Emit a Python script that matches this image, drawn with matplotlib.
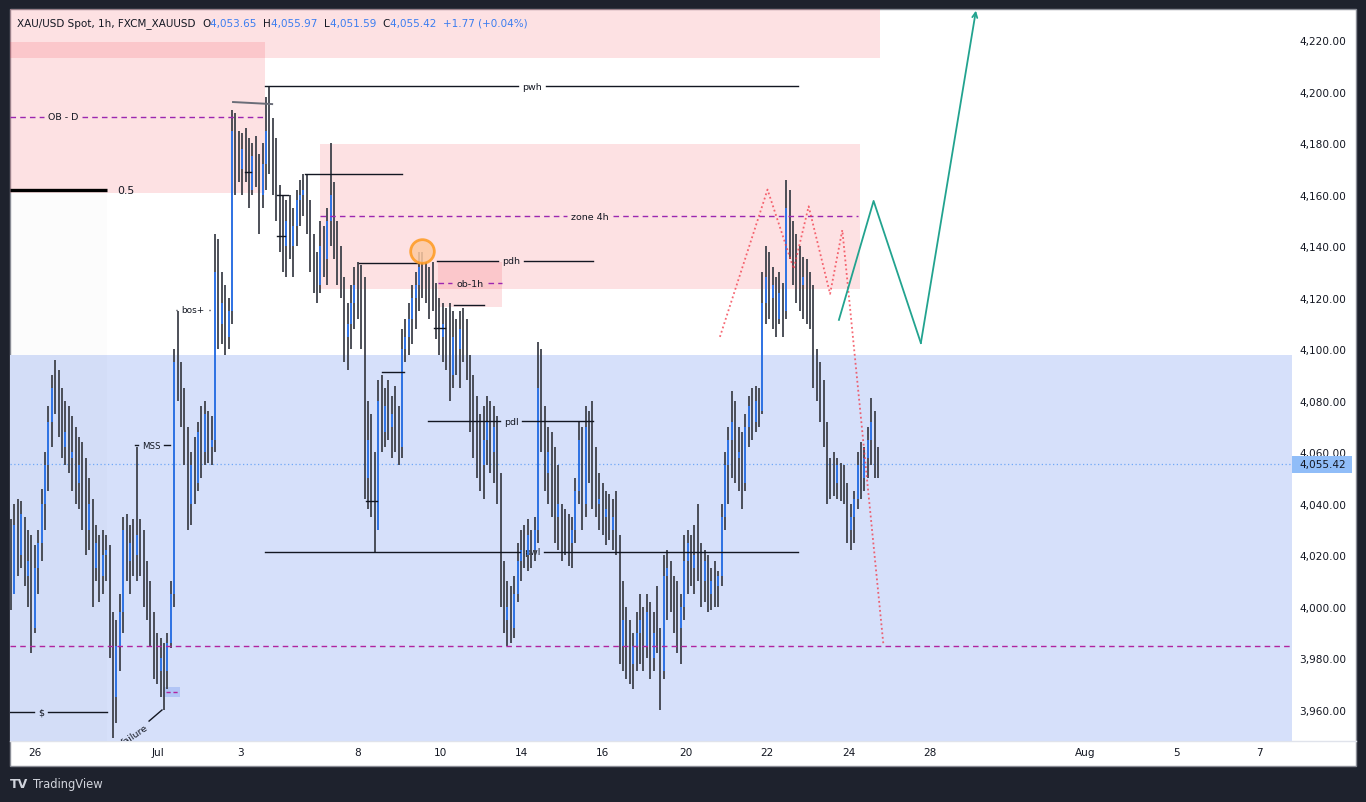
import matplotlib
matplotlib.use('Agg')
import matplotlib.pyplot as plt
import matplotlib.transforms as mtransforms
from matplotlib.patches import Rectangle
from matplotlib.lines import Line2D

# --- data (2h-ish bars, prices in USD) ---
first_open = 4010
highs = [4034, 4040, 4042, 4041, 4035, 4030, 4028, 4024, 4030, 4046,
         4060, 4078, 4090, 4096, 4092, 4085, 4080, 4078, 4074, 4070,
         4066, 4064, 4058, 4050, 4042, 4032, 4028, 4030, 4028, 4024,
         3998, 3995, 4005, 4035, 4036, 4032, 4034, 4062, 4034, 4030,
         4018, 4010, 3998, 3990, 3988, 3986, 3990, 4010, 4100, 4115,
         4095, 4085, 4070, 4060, 4066, 4072, 4078, 4080, 4076, 4074,
         4145, 4143, 4130, 4125, 4120, 4193, 4192, 4185, 4184, 4186,
         4182, 4180, 4183, 4176, 4180, 4198, 4202, 4190, 4182, 4164,
         4160, 4158, 4160, 4155, 4162, 4166, 4168, 4168, 4158, 4145,
         4138, 4150, 4148, 4155, 4180, 4165, 4150, 4140, 4128, 4118,
         4125, 4132, 4134, 4133, 4128, 4080, 4075, 4060, 4088, 4090,
         4085, 4088, 4082, 4086, 4078, 4108, 4112, 4118, 4125, 4130,
         4138, 4138, 4134, 4132, 4134, 4126, 4120, 4118, 4116, 4118,
         4115, 4112, 4115, 4116, 4112, 4098, 4090, 4082, 4075, 4078,
         4082, 4080, 4078, 4074, 4052, 4018, 4010, 4008, 4012, 4025,
         4030, 4032, 4034, 4030, 4035, 4103, 4100, 4078, 4070, 4068,
         4062, 4055, 4040, 4038, 4036, 4035, 4050, 4072, 4070, 4078,
         4076, 4080, 4062, 4052, 4048, 4045, 4044, 4042, 4045, 4028,
         4010, 4000, 3995, 3990, 3998, 4005, 4000, 4005, 4002, 3998,
         4008, 3992, 4020, 4022, 4018, 4012, 4010, 4005, 4028, 4030,
         4028, 4032, 4040, 4025, 4022, 4020, 4015, 4018, 4014, 4040,
         4060, 4070, 4084, 4080, 4070, 4068, 4075, 4082, 4085, 4086,
         4085, 4130, 4140, 4138, 4132, 4128, 4130, 4126, 4166, 4162,
         4150, 4145, 4140, 4136, 4135, 4130, 4125, 4100, 4095, 4088,
         4072, 4058, 4060, 4058, 4056, 4055, 4048, 4040, 4045, 4060,
         4064, 4062, 4070, 4081, 4076, 4062]
lows = [3999, 4005, 4012, 4015, 4008, 4000, 3982, 3990, 4005, 4018,
        4030, 4045, 4062, 4075, 4066, 4058, 4055, 4052, 4045, 4040,
        4038, 4030, 4020, 4022, 4000, 4010, 4002, 4005, 4010, 3980,
        3949, 3955, 3975, 3990, 4010, 4005, 4012, 4010, 4012, 4000,
        3995, 3985, 3972, 3970, 3965, 3960, 3968, 3984, 4000, 4080,
        4070, 4055, 4030, 4032, 4040, 4045, 4050, 4055, 4056, 4055,
        4060, 4100, 4102, 4098, 4100, 4110, 4160, 4165, 4160, 4165,
        4155, 4160, 4163, 4145, 4155, 4162, 4168, 4160, 4150, 4138,
        4130, 4128, 4135, 4128, 4140, 4148, 4152, 4145, 4130, 4122,
        4118, 4122, 4128, 4125, 4140, 4135, 4125, 4120, 4095, 4092,
        4100, 4108, 4112, 4100, 4042, 4038, 4035, 4021, 4030, 4060,
        4062, 4065, 4058, 4060, 4055, 4058, 4095, 4098, 4102, 4108,
        4115, 4120, 4118, 4112, 4115, 4104, 4098, 4095, 4092, 4080,
        4085, 4090, 4085, 4095, 4088, 4068, 4058, 4050, 4045, 4042,
        4055, 4052, 4048, 4040, 4000, 3990, 3985, 3986, 3988, 4002,
        4010, 4015, 4014, 4015, 4018, 4025, 4060, 4045, 4040, 4035,
        4025, 4022, 4018, 4020, 4016, 4015, 4025, 4040, 4030, 4035,
        4048, 4038, 4035, 4030, 4028, 4024, 4026, 4022, 4020, 3978,
        3975, 3972, 3970, 3968, 3975, 3978, 3975, 3980, 3972, 3975,
        3982, 3960, 3972, 3995, 3998, 3990, 3982, 3978, 3995, 4005,
        4008, 4005, 4010, 4000, 4002, 3998, 3999, 4000, 4000, 4008,
        4030, 4040, 4050, 4048, 4045, 4038, 4045, 4062, 4065, 4068,
        4070, 4075, 4110, 4112, 4108, 4105, 4110, 4105, 4112, 4135,
        4125, 4118, 4115, 4112, 4110, 4108, 4085, 4080, 4072, 4062,
        4040, 4042, 4043, 4042, 4041, 4040, 4025, 4022, 4025, 4038,
        4042, 4045, 4050, 4055, 4050, 4050]
closes = [4005, 4032, 4020, 4036, 4012, 4018, 3992, 4015, 4025, 4040,
          4055, 4072, 4085, 4080, 4074, 4062, 4068, 4058, 4060, 4048,
          4055, 4040, 4030, 4040, 4015, 4025, 4012, 4020, 4022, 3988,
          3965, 3985, 3998, 4030, 4018, 4025, 4020, 4028, 4020, 4008,
          4000, 3990, 3978, 3975, 3980, 3975, 3986, 4005, 4095, 4090,
          4075, 4060, 4040, 4055, 4048, 4068, 4060, 4075, 4062, 4065,
          4130, 4110, 4118, 4105, 4115, 4185, 4175, 4170, 4178, 4170,
          4162, 4175, 4168, 4160, 4172, 4185, 4180, 4165, 4155, 4145,
          4140, 4150, 4140, 4148, 4158, 4160, 4162, 4150, 4135, 4130,
          4125, 4140, 4135, 4150, 4160, 4145, 4132, 4125, 4105, 4110,
          4118, 4125, 4120, 4110, 4050, 4065, 4045, 4030, 4080, 4068,
          4078, 4070, 4075, 4065, 4062, 4100, 4105, 4112, 4120, 4125,
          4132, 4128, 4125, 4120, 4118, 4110, 4105, 4110, 4100, 4090,
          4105, 4100, 4108, 4102, 4095, 4075, 4065, 4060, 4055, 4065,
          4072, 4060, 4070, 4048, 4012, 3995, 4000, 3992, 4005, 4018,
          4022, 4020, 4028, 4022, 4030, 4085, 4068, 4052, 4060, 4045,
          4035, 4040, 4030, 4028, 4025, 4030, 4045, 4065, 4040, 4070,
          4055, 4050, 4040, 4042, 4035, 4038, 4030, 4035, 4025, 3985,
          3995, 3982, 3978, 3985, 3990, 3995, 3985, 3998, 3980, 3990,
          3985, 3975, 4012, 4015, 4005, 3998, 3992, 4000, 4018, 4025,
          4015, 4020, 4015, 4010, 4018, 4005, 4010, 4008, 4012, 4035,
          4055, 4065, 4072, 4058, 4060, 4048, 4070, 4078, 4072, 4080,
          4076, 4118, 4128, 4120, 4125, 4112, 4122, 4115, 4155, 4145,
          4135, 4130, 4125, 4128, 4118, 4115, 4092, 4088, 4080, 4068,
          4050, 4050, 4048, 4055, 4046, 4044, 4030, 4035, 4042, 4055,
          4050, 4058, 4065, 4072, 4058, 4055.42]

tick_labels = ['26', 'Jul', '3', '8', '10', '14', '16', '20', '22', '24',
               '28', 'Aug', '5', '7']
tick_bars = [7.1, 43.2, 67.4, 101.8, 126.2, 150.0, 174.1, 198.5, 222.4,
             246.5, 270.3, 315.9, 342.9, 367.1]
price_ticks = list(range(3960, 4221, 20))

header_name = 'XAU/USD Spot, 1h, FXCM_XAUUSD'
header_ohlc = [('O', 4053.65), ('H', 4055.97), ('L', 4051.59), ('C', 4055.42)]
header_change = (1.77, 0.04)
last_price = 4055.42

# zones: (x0, x1, y0, y1) in bars / price
top_zone = (-0.3, 255.6, 4213.2, 4245)
obd_zone = (-0.3, 74.7, 4160.8, 4219.4)
zone_4h = (90.9, 249.7, 4123.5, 4179.8)
ob_1h = (125.6, 144.4, 4116.6, 4134.1)
demand_zone = (-0.3, 376.8, 3940, 4097.9)
fib_shade = (-0.3, 28.2, 3940, 4160.8)
tiny_box = (44.7, 49.7, 3965.1, 3969.0)

# labelled levels: (price, x0, x1, label x, label)
solid_levels = [(4202.3, 74.7, 231.5, 153.2, 'pwh'),
                (4134.4, 125.3, 171.2, 147.1, 'pdh'),
                (4072.2, 122.6, 171.2, 147.1, 'pdl'),
                (4021.4, 74.7, 231.5, 153.2, 'pwl'),
                (3959.2, -0.3, 28.2, 8.8, '$'),
                (4062.9, 36.5, 46.8, 41.2, 'MSS')]
dashed_levels = [(4190.3, -0.3, 74.7, 15.2, 'OB - D'),
                 (4151.8, 90.9, 249.1, 170.3, 'zone 4h'),
                 (4125.8, 125.6, 144.4, 135.0, 'ob-1h')]
bos_level = (4115.5, 48.4, 58.5, 53.5, 'bos+')
half_level = (4161.9, -0.3, 28.2)
low_target = 3984.9
structure = [(86.5, 115.0, 4168.2), (102.4, 119.4, 4133.5), (130.3, 139.1, 4117.3),
             (109.1, 115.6, 4091.3), (104.4, 107.6, 4041.2), (78.2, 81.5, 4160.0),
             (78.2, 80.6, 4144.1), (124.4, 127.6, 4108.3), (68.8, 70.6, 4169.0)]
grey_line = ([65.3, 76.8], [4196.1, 4195.3])
circle_pt = (120.9, 4138.3)
green_x = [243.5, 253.7, 267.6, 283.8]
green_y = [4111.5, 4157.7, 4102.5, 4231.6]
red_x = [208.5, 222.5, 230.2, 234.6, 240.9, 244.5, 256.6]
red_y = [4104.9, 4162.1, 4131.3, 4155.6, 4121.6, 4146.4, 3985.2]
failure_line = ([44.4, 40.6], [3960.0, 3955.7])

# --- colours ---
BG = '#1e222d'
TEXT = '#131722'
WICK = '#3f424b'
UP = '#2f78f2'
PURPLE = '#9c27b0'
MAGENTA = '#b1249f'
PINK = '#f23645'

W, H = 1366, 803
fig = plt.figure(figsize=(W / 100, H / 100), dpi=100, facecolor=BG)
fig.patches.append(Rectangle((10 / W, 1 - 767 / H), 1346 / W, 757 / H,
                             transform=fig.transFigure, facecolor='white',
                             edgecolor='#8a8d96', lw=1, zorder=-2))
fig.lines.append(Line2D([10 / W, 1356 / W], [1 - 742 / H, 1 - 742 / H],
                        transform=fig.transFigure, color='#e0e3eb', lw=1,
                        zorder=-1))

ax = fig.add_axes([10 / W, 61 / H, 1282 / W, 732 / H])
ax.set_facecolor('none')
for s in ax.spines.values():
    s.set_visible(False)
ax.set_xlim(-0.3, 376.76)
ax.set_ylim(3947.96, 4232.23)
renderer = fig.canvas.get_renderer()
bars_per_px = (376.76 + 0.3) / 1282


def zone(z, color, alpha, zorder=0.5):
    x0, x1, y0, y1 = z
    ax.add_patch(Rectangle((x0, y0), x1 - x0, y1 - y0, facecolor=color,
                           alpha=alpha, lw=0, zorder=zorder))


zone(demand_zone, '#d6e0fa', 1.0, 0.4)
zone(fib_shade, '#000000', 0.01)
zone(top_zone, PINK, 0.15)
zone(obd_zone, PINK, 0.15)
zone(zone_4h, PINK, 0.15)
zone(ob_1h, PINK, 0.15)
zone(tiny_box, '#a9bff5', 0.8, 0.6)
ax.plot([45.5, 49.0], [3967.0, 3967.0], color=MAGENTA, lw=1, ls=(0, (3, 2)), zorder=0.7)

# current price line
ax.axhline(last_price, color='#6fa8f7', lw=0.9, ls=(0, (1, 2)), zorder=1)

# candles
idx = list(range(len(closes)))
opens = [first_open] + closes[:-1]
ax.vlines(idx, lows, highs, colors=WICK, lw=1.3, zorder=2)
up_i = [i for i in idx if closes[i] > opens[i]]
ax.vlines(up_i, [opens[i] for i in up_i], [closes[i] for i in up_i],
          colors=UP, lw=1.3, zorder=2.1)


def labelled(level, color, ls, fs=6.8, tz=4, lw=1.0):
    y, x0, x1, xl, label = level
    t = ax.text(xl, y, label, ha='center', va='center', fontsize=fs,
                color=TEXT, zorder=tz)
    w = t.get_window_extent(renderer).width
    half = (w / 2 + 4) * bars_per_px
    ax.plot([x0, xl - half], [y, y], color=color, ls=ls, lw=lw, zorder=3)
    ax.plot([xl + half, x1], [y, y], color=color, ls=ls, lw=lw, zorder=3)


for lv in solid_levels:
    labelled(lv, TEXT, '-', tz=1.5 if lv[4] == 'pwl' else 4,
             fs=6.2 if lv[4] == 'MSS' else 6.8)
for lv in dashed_levels:
    labelled(lv, PURPLE, (0, (4, 3)))
labelled(bos_level, TEXT, (0, (4, 3)), fs=6.4)

ax.plot([half_level[1], half_level[2]], [half_level[0]] * 2, color='black',
        lw=2.4, zorder=3, solid_capstyle='butt')
ax.text(31.2, half_level[0], '0.5', ha='left', va='center', fontsize=7.8,
        color=TEXT, zorder=4)
ax.axhline(low_target, color=MAGENTA, lw=1, ls=(0, (4, 3)), zorder=3)

for x0, x1, y in structure:
    ax.plot([x0, x1], [y, y], color=TEXT, lw=1, zorder=3)
ax.plot(grey_line[0], grey_line[1], color='#6a6d78', lw=1.4, zorder=3)

ax.plot(failure_line[0], failure_line[1], color=TEXT, lw=1, zorder=3)
ax.text(36.5, 3950.5, 'failure', rotation=34, ha='center', va='center',
        fontsize=6.8, color=TEXT, zorder=4, clip_on=True)

# projections
ax.plot(red_x, red_y, color=PINK, lw=1.3, ls=(0, (1, 1.5)), alpha=0.75, zorder=5)
ax.plot(green_x[:-1], green_y[:-1], color='#22a38f', lw=1.3, zorder=5)
ax.annotate('', xy=(green_x[-1], green_y[-1]), xytext=(green_x[-2], green_y[-2]),
            arrowprops=dict(arrowstyle='->', color='#22a38f', lw=1.3,
                            mutation_scale=9, shrinkA=0, shrinkB=0),
            zorder=5, annotation_clip=False)
ax.scatter([circle_pt[0]], [circle_pt[1]], s=290, facecolor='#fcc9a0',
           edgecolor='#ff9a1f', lw=2, alpha=0.85, zorder=6)

# axes ticks
ax.yaxis.tick_right()
ax.set_yticks(price_ticks)
ax.set_yticklabels([f'{v:,.2f}' for v in price_ticks])
ax.tick_params(axis='y', length=0, pad=5, labelsize=7.6, labelcolor=TEXT)
ax.set_xticks(tick_bars)
ax.set_xticklabels(tick_labels)
ax.tick_params(axis='x', length=0, pad=4, labelsize=7.6, labelcolor=TEXT)

# last price tag
trans = mtransforms.blended_transform_factory(ax.transAxes, ax.transData)
ax.add_patch(Rectangle((1.0, last_price - 3.3), 60 / 1282, 6.6, transform=trans,
                       facecolor='#90bdf8', lw=0, clip_on=False, zorder=6))
ax.text(1 + 7 / 1282, last_price, f'{last_price:,.2f}', transform=trans,
        ha='left', va='center', fontsize=7.6, color=TEXT, zorder=7)

# header legend
parts = [(header_name + '  ', TEXT)]
for k, v in header_ohlc:
    parts.append((k, TEXT))
    parts.append((f'{v:,.2f}  ', '#3b7df0'))
parts.append((f'+{header_change[0]:.2f} (+{header_change[1]:.2f}%)', '#3b7df0'))
xp = 17
for s, c in parts:
    t = fig.text(xp / W, 1 - 24 / H, s, color=c, fontsize=7.5, ha='left',
                 va='center', zorder=10)
    xp += t.get_window_extent(renderer).width

# watermark
fig.text(10 / W, 1 - 785 / H, 'TV', color='#d1d4dc', fontsize=9, weight='bold',
         ha='left', va='center')
fig.text(33 / W, 1 - 785 / H, 'TradingView', color='#d1d4dc', fontsize=8.3,
         ha='left', va='center')

fig.savefig('out.png', dpi=100, facecolor=BG)
